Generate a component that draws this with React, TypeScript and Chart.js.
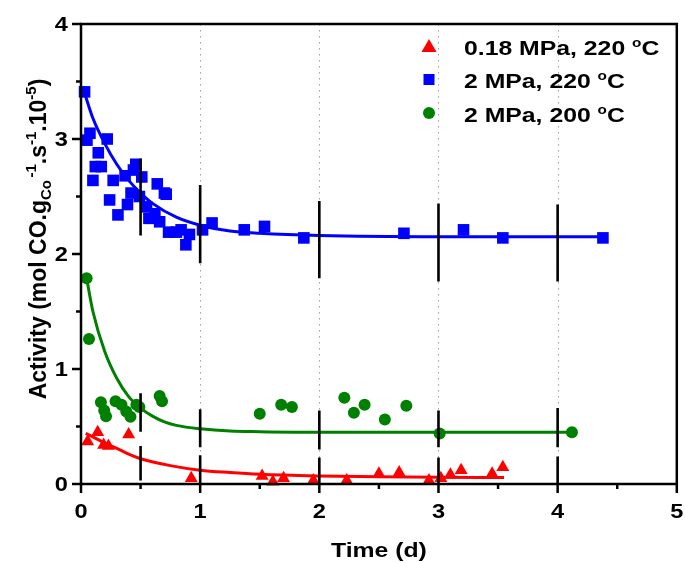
import React, { useEffect, useRef } from "react";
import { Chart, registerables } from "chart.js";

Chart.register(...registerables);

// ---------- data ----------
const seriesLabels = ["0.18 MPa, 220 °C", "2 MPa, 220 °C", "2 MPa, 200 °C"];

const redX = [0.056, 0.14, 0.19, 0.23, 0.40, 0.925, 1.52, 1.61, 1.70, 1.95, 2.23, 2.50, 2.67, 2.92, 3.02, 3.10, 3.19, 3.45, 3.54];
const redY = [0.37, 0.45, 0.34, 0.33, 0.43, 0.05, 0.07, 0.02, 0.05, 0.03, 0.03, 0.09, 0.10, 0.03, 0.05, 0.08, 0.12, 0.09, 0.145];

const blueX = [0.03, 0.05, 0.075, 0.10, 0.12, 0.145, 0.17, 0.22, 0.24, 0.27, 0.31, 0.37, 0.39, 0.42, 0.44, 0.46, 0.49, 0.51, 0.55, 0.57, 0.62, 0.64, 0.66, 0.70, 0.715, 0.735, 0.80, 0.84, 0.88, 0.91, 1.02, 1.10, 1.37, 1.54, 1.87, 2.71, 3.21, 3.54, 4.38];
const blueY = [3.41, 2.99, 3.05, 2.64, 2.76, 2.88, 2.76, 3.00, 2.47, 2.64, 2.34, 2.68, 2.43, 2.53, 2.73, 2.78, 2.50, 2.67, 2.41, 2.31, 2.35, 2.61, 2.28, 2.53, 2.52, 2.19, 2.19, 2.21, 2.08, 2.17, 2.21, 2.27, 2.21, 2.24, 2.14, 2.18, 2.21, 2.14, 2.14];

const greenX = [0.047, 0.067, 0.167, 0.195, 0.21, 0.29, 0.34, 0.38, 0.415, 0.465, 0.49, 0.66, 0.68, 1.50, 1.68, 1.77, 2.21, 2.29, 2.38, 2.55, 2.73, 3.01, 4.12];
const greenY = [1.79, 1.26, 0.71, 0.64, 0.59, 0.72, 0.69, 0.63, 0.585, 0.69, 0.67, 0.765, 0.72, 0.61, 0.69, 0.67, 0.75, 0.62, 0.69, 0.56, 0.68, 0.44, 0.45];

// fitted curves
const redFitX = [0.04, 0.1, 0.2, 0.3, 0.4, 0.5, 0.75, 1.0, 1.25, 1.5, 2, 2.5, 3, 3.55];
const redFitY = [0.44, 0.41, 0.355, 0.31, 0.26, 0.22, 0.16, 0.12, 0.10, 0.085, 0.07, 0.062, 0.058, 0.056];
const blueFitX = [0.03, 0.1, 0.2, 0.3, 0.4, 0.5, 0.6, 0.8, 1.0, 1.25, 1.5, 2, 3, 4.38];
const blueFitY = [3.40, 3.18, 2.96, 2.78, 2.64, 2.53, 2.44, 2.32, 2.25, 2.20, 2.18, 2.16, 2.15, 2.15];
const greenFitX = [0.047, 0.1, 0.2, 0.3, 0.4, 0.5, 0.6, 0.7, 0.8, 1.0, 1.25, 1.5, 2, 3, 4.12];
const greenFitY = [1.79, 1.50, 1.15, 0.92, 0.76, 0.66, 0.59, 0.54, 0.51, 0.48, 0.46, 0.455, 0.45, 0.45, 0.45];

// black vertical bars
const barX = [0.5, 1, 2, 3, 4];
const blueBarLow = [2.16, 1.92, 1.79, 1.76, 1.76];
const blueBarHigh = [2.83, 2.60, 2.46, 2.44, 2.43];
const greenBarLow = [0.455, 0.32, 0.30, 0.32, 0.32];
const greenBarHigh = [0.79, 0.65, 0.64, 0.64, 0.66];
const redBarLow = [0.03, 0, 0, 0, 0];
const redBarHigh = [0.33, 0.25, 0.23, 0.23, 0.24];

// axes
const xMajorTicks = [0, 1, 2, 3, 4, 5];
const xMinorTicks = [0.5, 1.5, 2.5, 3.5, 4.5];
const yMajorTicks = [0, 1, 2, 3, 4];
const yMinorTicks = [0.5, 1.5, 2.5, 3.5];
const xGridLines = [1, 2, 3, 4];
const xTitle = "Time (d)";

const RED = "#ff0000";
const BLUE = "#0000ff";
const GREEN = "#008000";
const FONT = '"Liberation Sans", Arial, sans-serif';
const SX = 1.18;

const pts = (xs: number[], ys: number[]) => xs.map((x, i) => ({ x, y: ys[i] }));
const bars = (xs: number[], lo: number[], hi: number[]) =>
  xs.flatMap((x, i) => [
    { x, y: lo[i] },
    { x, y: hi[i] },
    { x, y: null as any },
  ]);

type Seg = { t: string; s: number; dy?: number };

function segWidth(ctx: CanvasRenderingContext2D, segs: Seg[]) {
  let w = 0;
  for (const g of segs) {
    ctx.font = `bold ${g.s}px ${FONT}`;
    w += ctx.measureText(g.t).width;
  }
  return w;
}
function drawSegs(ctx: CanvasRenderingContext2D, segs: Seg[], x: number, y: number) {
  let cx = x;
  for (const g of segs) {
    ctx.font = `bold ${g.s}px ${FONT}`;
    ctx.fillText(g.t, cx, y + (g.dy || 0));
    cx += ctx.measureText(g.t).width;
  }
}
function hText(ctx: CanvasRenderingContext2D, segs: Seg[], x: number, y: number, align: string) {
  ctx.save();
  ctx.textAlign = "left";
  ctx.textBaseline = "alphabetic";
  ctx.fillStyle = "#000";
  const w = segWidth(ctx, segs) * SX;
  const x0 = align === "left" ? x : align === "center" ? x - w / 2 : x - w;
  ctx.translate(x0, y);
  ctx.scale(SX, 1);
  drawSegs(ctx, segs, 0, 0);
  ctx.restore();
}
function labelSegs(label: string, size: number): Seg[] {
  const i = label.indexOf("°");
  if (i < 0) return [{ t: label, s: size }];
  return [
    { t: label.slice(0, i), s: size },
    { t: "o", s: Math.round(size * 0.62), dy: -Math.round(size * 0.4) },
    { t: label.slice(i + 1), s: size },
  ];
}

const overlay = {
  id: "overlay",
  beforeDatasetsDraw(chart: any) {
    const ctx = chart.ctx as CanvasRenderingContext2D;
    const { top, bottom } = chart.chartArea;
    const xs = chart.scales.x;
    ctx.save();
    ctx.strokeStyle = "#a0a0a0";
    ctx.lineWidth = 1;
    ctx.setLineDash([1.5, 4.5]);
    for (const v of xGridLines) {
      const px = Math.round(xs.getPixelForValue(v)) + 0.5;
      ctx.beginPath();
      ctx.moveTo(px, top);
      ctx.lineTo(px, bottom);
      ctx.stroke();
    }
    ctx.restore();
  },
  afterDraw(chart: any) {
    const ctx = chart.ctx as CanvasRenderingContext2D;
    const { left, right, top, bottom } = chart.chartArea;
    const xs = chart.scales.x;
    const ys = chart.scales.y;
    ctx.save();
    ctx.strokeStyle = "#000";
    ctx.lineWidth = 2.5;
    ctx.strokeRect(left, top, right - left, bottom - top);
    // ticks
    const tick = (x1: number, y1: number, x2: number, y2: number) => {
      ctx.beginPath();
      ctx.moveTo(x1, y1);
      ctx.lineTo(x2, y2);
      ctx.stroke();
    };
    for (const v of xMajorTicks) { const p = xs.getPixelForValue(v); tick(p, bottom, p, bottom + 9); }
    for (const v of xMinorTicks) { const p = xs.getPixelForValue(v); tick(p, bottom, p, bottom + 5); }
    for (const v of yMajorTicks) { const p = ys.getPixelForValue(v); tick(left, p, left - 9, p); }
    for (const v of yMinorTicks) { const p = ys.getPixelForValue(v); tick(left, p, left - 5, p); }

    // tick labels
    for (const v of xMajorTicks) hText(ctx, [{ t: String(v), s: 20 }], xs.getPixelForValue(v), 518, "center");
    for (const v of yMajorTicks) hText(ctx, [{ t: String(v), s: 20 }], 68, ys.getPixelForValue(v) + 7, "right");

    // x title
    hText(ctx, [{ t: xTitle, s: 21 }], (left + right) / 2, 557, "center");

    // y title (rotated)
    const ySegs: Seg[] = [
      { t: "Activity (mol CO.g", s: 23 },
      { t: "Co", s: 15, dy: 5 },
      { t: " ", s: 9 },
      { t: "-1", s: 15, dy: -10 },
      { t: ".s", s: 23 },
      { t: "-1", s: 15, dy: -10 },
      { t: ".10", s: 23 },
      { t: "-5", s: 15, dy: -10 },
      { t: ")", s: 23 },
    ];
    ctx.save();
    ctx.fillStyle = "#000";
    ctx.textAlign = "left";
    ctx.textBaseline = "alphabetic";
    const yw = segWidth(ctx, ySegs);
    ctx.translate(46, 239);
    ctx.rotate(-Math.PI / 2);
    drawSegs(ctx, ySegs, -yw / 2, 0);
    ctx.restore();

    // legend
    const rows = [46, 79.5, 113];
    const colors = [RED, BLUE, GREEN];
    const mx = 429;
    rows.forEach((ry, i) => {
      ctx.fillStyle = colors[i];
      ctx.beginPath();
      if (i === 0) {
        ctx.moveTo(mx, ry - 7);
        ctx.lineTo(mx + 7.5, ry + 6);
        ctx.lineTo(mx - 7.5, ry + 6);
        ctx.closePath();
      } else if (i === 1) {
        ctx.rect(mx - 5.5, ry - 5.5, 11, 11);
      } else {
        ctx.arc(mx, ry, 6, 0, Math.PI * 2);
      }
      ctx.fill();
      hText(ctx, labelSegs(seriesLabels[i], 21), 464, ry + 8.5, "left");
    });
    ctx.restore();
  },
};

export default function App() {
  const ref = useRef<HTMLCanvasElement | null>(null);
  useEffect(() => {
    if (!ref.current) return;
    const pointBase = { showLine: false, borderWidth: 0, clip: false as any, order: 3 };
    const lineBase = { showLine: true, pointRadius: 0, borderWidth: 3, cubicInterpolationMode: "monotone" as const, clip: false as any, order: 2 };
    const barBase = { showLine: true, pointRadius: 0, borderWidth: 2.6, borderColor: "#000", spanGaps: false, clip: false as any, order: 1 };
    const chart = new Chart(ref.current, {
      type: "scatter",
      data: {
        datasets: [
          { ...barBase, label: "bars red", data: bars(barX, redBarLow, redBarHigh) },
          { ...barBase, label: "bars blue", data: bars(barX, blueBarLow, blueBarHigh) },
          { ...barBase, label: "bars green", data: bars(barX, greenBarLow, greenBarHigh) },
          { ...lineBase, label: "fit red", borderColor: RED, data: pts(redFitX, redFitY) },
          { ...lineBase, label: "fit blue", borderColor: BLUE, data: pts(blueFitX, blueFitY) },
          { ...lineBase, label: "fit green", borderColor: GREEN, data: pts(greenFitX, greenFitY) },
          { ...pointBase, label: seriesLabels[0], data: pts(redX, redY), pointStyle: "triangle", pointRadius: 7.5, backgroundColor: RED, borderColor: RED },
          { ...pointBase, label: seriesLabels[1], data: pts(blueX, blueY), pointStyle: "rect", pointRadius: 8.2, backgroundColor: BLUE, borderColor: BLUE },
          { ...pointBase, label: seriesLabels[2], data: pts(greenX, greenY), pointStyle: "circle", pointRadius: 6, backgroundColor: GREEN, borderColor: GREEN },
        ] as any,
      },
      options: {
        responsive: false,
        animation: false,
        events: [],
        layout: { padding: { top: 24, right: 6, left: 0, bottom: 0 } },
        plugins: { legend: { display: false }, tooltip: { enabled: false } },
        scales: {
          x: {
            type: "linear",
            min: 0,
            max: 5,
            afterFit: (s: any) => { s.height = 79; },
            ticks: { display: false, stepSize: 1 },
            grid: { display: false },
            border: { display: false },
          },
          y: {
            type: "linear",
            min: 0,
            max: 4,
            afterFit: (s: any) => { s.width = 81; },
            ticks: { display: false, stepSize: 1 },
            grid: { display: false },
            border: { display: false },
          },
        },
      } as any,
      plugins: [overlay],
    });
    return () => chart.destroy();
  }, []);
  return (
    <canvas
      ref={ref}
      width={685}
      height={563}
      style={{ position: "fixed", left: 0, top: 0, width: 685, height: 563, display: "block", background: "#fff" }}
    />
  );
}
